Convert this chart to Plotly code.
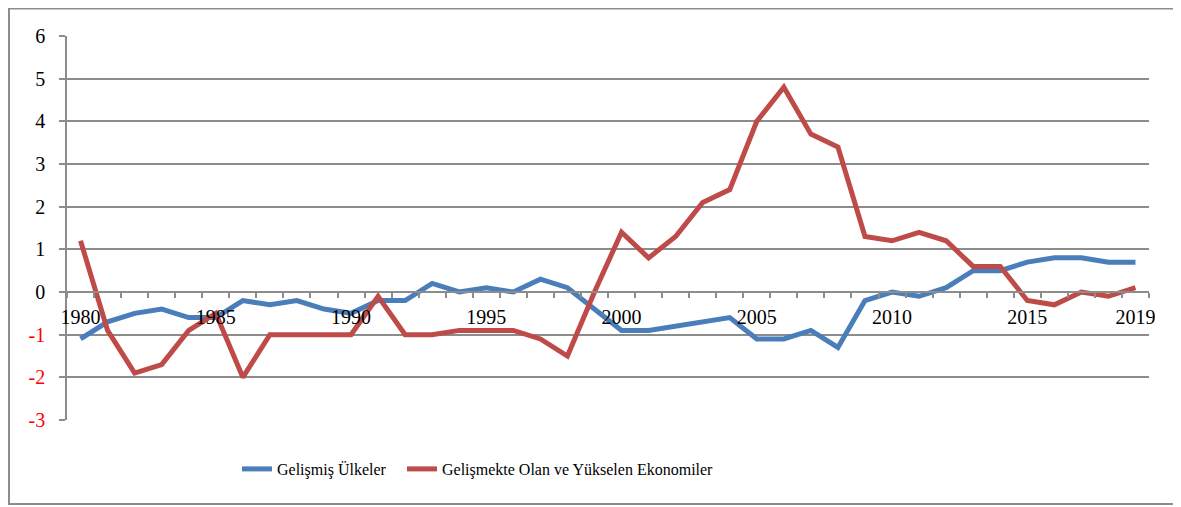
import plotly.graph_objects as go

years = list(range(1980, 2020))
gelismis = [-1.1, -0.7, -0.5, -0.4, -0.6, -0.6, -0.2, -0.3, -0.2, -0.4,
            -0.5, -0.2, -0.2, 0.2, 0.0, 0.1, 0.0, 0.3, 0.1, -0.4,
            -0.9, -0.9, -0.8, -0.7, -0.6, -1.1, -1.1, -0.9, -1.3, -0.2,
            0.0, -0.1, 0.1, 0.5, 0.5, 0.7, 0.8, 0.8, 0.7, 0.7]
gelismekte = [1.2, -0.9, -1.9, -1.7, -0.9, -0.5, -2.0, -1.0, -1.0, -1.0,
              -1.0, -0.1, -1.0, -1.0, -0.9, -0.9, -0.9, -1.1, -1.5, 0.0,
              1.4, 0.8, 1.3, 2.1, 2.4, 4.0, 4.8, 3.7, 3.4, 1.3,
              1.2, 1.4, 1.2, 0.6, 0.6, -0.2, -0.3, 0.0, -0.1, 0.1]
x_tickvals = [1980, 1985, 1990, 1995, 2000, 2005, 2010, 2015, 2019]
y_tickvals = [6, 5, 4, 3, 2, 1, 0, -1, -2, -3]

names = ["Gelişmiş Ülkeler", "Gelişmekte Olan ve Yükselen Ekonomiler"]
colors = ["#4A7EBB", "#BE4B48"]

FONT = "Liberation Serif"
GRID = "#8C8C8C"

# page body has an 8px margin, so figure coordinates are offset by 8px
L, T, PW, PH = 59, 28, 1082, 384

fig = go.Figure()
for i, (name, vals, col) in enumerate(zip(names, [gelismis, gelismekte], colors)):
    fig.add_trace(go.Scatter(x=years, y=vals, mode="lines", name=name,
                             legend="legend" if i == 0 else "legend2",
                             line=dict(color=col, width=5)))

y_ticktext = [str(v) if v >= 0 else f'<span style="color:#FF0000">{v}</span>'
              for v in y_tickvals]

leg_common = dict(orientation="h", xanchor="left", y=-0.1276, yanchor="middle",
                  font=dict(size=16, family=FONT, color="black"),
                  bgcolor="rgba(0,0,0,0)")

fig.update_layout(
    width=1181, height=507,
    margin=dict(l=L, r=1181 - L - PW, t=T, b=507 - T - PH),
    paper_bgcolor="white", plot_bgcolor="white",
    font=dict(family=FONT, size=20, color="black"),
    showlegend=True,
    legend=dict(x=(229 - L) / PW, **leg_common),
    legend2=dict(x=(394 - L) / PW, **leg_common),
    xaxis=dict(range=[1979.5, 2019.5], tickmode="array", tickvals=x_tickvals,
               ticktext=[str(v) for v in x_tickvals], ticks="", showgrid=False,
               zeroline=False, showline=True, linecolor=GRID, linewidth=1.5,
               anchor="free", position=3/9, ticklabelstandoff=7,
               tickfont=dict(size=20, family=FONT, color="black"),
               minor=dict(ticks="outside", ticklen=5, tickcolor=GRID,
                          tickwidth=1.5, tick0=1979.5, dtick=1, showgrid=False)),
    yaxis=dict(range=[-3, 6], tickmode="array", tickvals=y_tickvals,
               ticktext=y_ticktext, showgrid=True, gridcolor=GRID, gridwidth=1.5,
               zeroline=False, showline=True, linecolor=GRID, linewidth=1.5,
               ticks="outside", ticklen=6, tickcolor=GRID, tickwidth=1.5,
               ticklabelstandoff=10,
               tickfont=dict(size=20, family=FONT, color="black")),
)

fig.add_shape(type="rect", xref="paper", yref="paper",
              x0=(1 - L) / PW, x1=(1200 - L) / PW,
              y0=(T + PH - 496) / PH, y1=(T + PH - 0.5) / PH,
              line=dict(color=GRID, width=2), fillcolor="rgba(0,0,0,0)",
              layer="below")

fig.write_html("out.html")
